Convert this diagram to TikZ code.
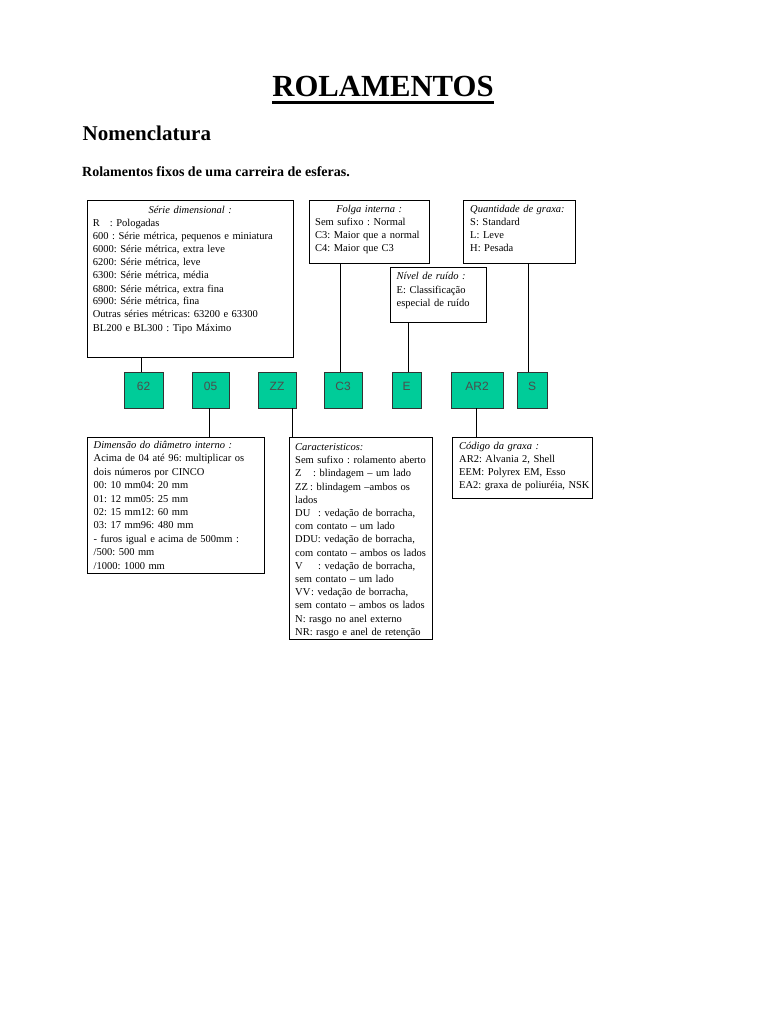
\documentclass[tikz,border=0pt]{standalone}
\usepackage{fontspec}
\setmainfont{Liberation Serif}
\newfontfamily\labelfont{Liberation Sans}
\definecolor{gfill}{RGB}{0,204,153}
\frenchspacing
\begin{document}
\begin{tikzpicture}[x=1pt,y=-1pt,
  frame/.style={draw=black, line width=0.8pt, fill=white, rectangle, inner sep=0},
  gbox/.style={draw=black!80, line width=0.8pt, fill=gfill, rectangle, inner sep=0,
    minimum height=36pt, text=black!70, font=\labelfont\fontsize{12}{14}\selectfont,
    text height=8pt, text depth=8pt},
  txt/.style={anchor=base west, inner sep=0, align=left, text width=300pt},
  wire/.style={line width=0.8pt, black}]
\useasboundingbox[fill=white] (0,0) rectangle (768,1024);

% headings
\node[anchor=base, inner sep=0, font=\bfseries\fontsize{30.7}{36}\selectfont] (title) at (383,97) {ROLAMENTOS};
\draw[line width=2.6pt] ([yshift=-5.3pt]title.base west) -- ([yshift=-5.3pt]title.base east);
\node[anchor=base west, inner sep=0, font=\bfseries\fontsize{21}{25}\selectfont] (nomen) at (82.5,141) {Nomenclatura};
\node[anchor=base west, inner sep=0, font=\bfseries\fontsize{14}{17}\selectfont] (sub) at (82,177) {Rolamentos fixos de uma carreira de esferas.};

% upper boxes
\node[frame, minimum width=206pt, minimum height=157pt] (serie) at (190,278.5) {};
\node[txt, font=\fontsize{10.5}{13}\selectfont] (serietxt) at (92.7,214) {%
\makebox[194.6pt]{\textit{Série dimensional :}}\\
\makebox[17pt][l]{R}: Pologadas\\
600 : Série  métrica, pequenos e miniatura\\
6000: Série métrica, extra leve\\
6200: Série métrica, leve\\
6300: Série métrica, média\\
6800: Série métrica, extra fina\\
6900: Série métrica, fina\\
Outras séries métricas: 63200 e 63300\\
BL200 e BL300 : Tipo Máximo};

\node[frame, minimum width=120pt, minimum height=63pt] (folga) at (369,231.5) {};
\node[txt, font=\fontsize{10.5}{12.9}\selectfont] (folgatxt) at (315,213) {%
\makebox[108pt]{\textit{Folga interna :}}\\
Sem sufixo : Normal\\
C3: Maior que a normal\\
C4: Maior que C3};

\node[frame, minimum width=112pt, minimum height=63pt] (quant) at (519,231.5) {};
\node[txt, font=\fontsize{10.5}{12.9}\selectfont] (quanttxt) at (470,213) {%
\textit{Quantidade de graxa:}\\
S: Standard\\
L: Leve\\
H: Pesada};

\node[frame, minimum width=96pt, minimum height=55pt] (nivel) at (438,294.5) {};
\node[txt, font=\fontsize{10.5}{13.5}\selectfont] (niveltxt) at (396.5,279.5) {%
\textit{Nível de ruído :}\\
E: Classificação\\
especial de ruído};

% code boxes
\node[gbox, minimum width=39pt] (b62) at (143.5,390) {62};
\node[gbox, minimum width=37pt] (b05) at (210.5,390) {05};
\node[gbox, minimum width=38pt] (bZZ) at (277,390) {ZZ};
\node[gbox, minimum width=38pt] (bC3) at (343,390) {C3};
\node[gbox, minimum width=29pt] (bE) at (406.5,390) {E};
\node[gbox, minimum width=52pt] (bAR) at (477,390) {AR2};
\node[gbox, minimum width=30pt] (bS) at (532,390) {S};

% lower boxes
\node[frame, minimum width=177pt, minimum height=136pt] (dim) at (175.5,505) {};
\node[txt, font=\fontsize{10.5}{13.4}\selectfont] (dimtxt) at (93.5,448.5) {%
\textit{Dimensão do diâmetro interno :}\\
Acima de 04 até 96: multiplicar os\\
dois números por CINCO\\
00: 10 mm04: 20 mm\\
01: 12 mm05: 25 mm\\
02: 15 mm12: 60 mm\\
03: 17 mm96: 480 mm\\
- furos igual e acima de 500mm :\\
/500: 500 mm\\
/1000: 1000 mm};

\node[frame, minimum width=143pt, minimum height=202pt] (carac) at (360.5,538) {};
\node[txt, font=\fontsize{10.5}{13.2}\selectfont] (caractxt) at (295,450.5) {%
\textit{Caracteristicos:}\\
Sem sufixo : rolamento aberto\\
\makebox[18pt][l]{Z}:  blindagem – um lado\\
\makebox[15pt][l]{ZZ}: blindagem –ambos os\\
lados\\
\makebox[23pt][l]{DU}: vedação de borracha,\\
com contato – um lado\\
DDU:  vedação de borracha,\\
com contato – ambos os lados\\
\makebox[23pt][l]{V}: vedação de borracha,\\
sem contato – um lado\\
\makebox[16pt][l]{VV}: vedação de borracha,\\
sem contato – ambos os lados\\
N: rasgo no anel externo\\
NR: rasgo e anel de retenção};

\node[frame, minimum width=140pt, minimum height=61pt] (codigo) at (522,467.5) {};
\node[txt, font=\fontsize{10.5}{13}\selectfont] (codtxt) at (459,449) {%
\textit{Código da graxa :}\\
AR2: Alvania 2, Shell\\
EEM: Polyrex EM, Esso\\
EA2: graxa de poliuréia, NSK};

% connectors
\draw[wire] ([xshift=-2.5pt]b62.north) -- ([xshift=-2.5pt]b62.north |- serie.south);
\draw[wire] ([xshift=-3pt]bC3.north) -- ([xshift=-3pt]bC3.north |- folga.south);
\draw[wire] ([xshift=1.5pt]bE.north) -- ([xshift=1.5pt]bE.north |- nivel.south);
\draw[wire] ([xshift=-4pt]bS.north) -- ([xshift=-4pt]bS.north |- quant.south);
\draw[wire] ([xshift=-1.5pt]b05.south) -- ([xshift=-1.5pt]b05.south |- dim.north);
\draw[wire] ([xshift=15pt]bZZ.south) -- ([xshift=15pt]bZZ.south |- carac.north);
\draw[wire] ([xshift=-1pt]bAR.south) -- ([xshift=-1pt]bAR.south |- codigo.north);
\end{tikzpicture}
\end{document}
